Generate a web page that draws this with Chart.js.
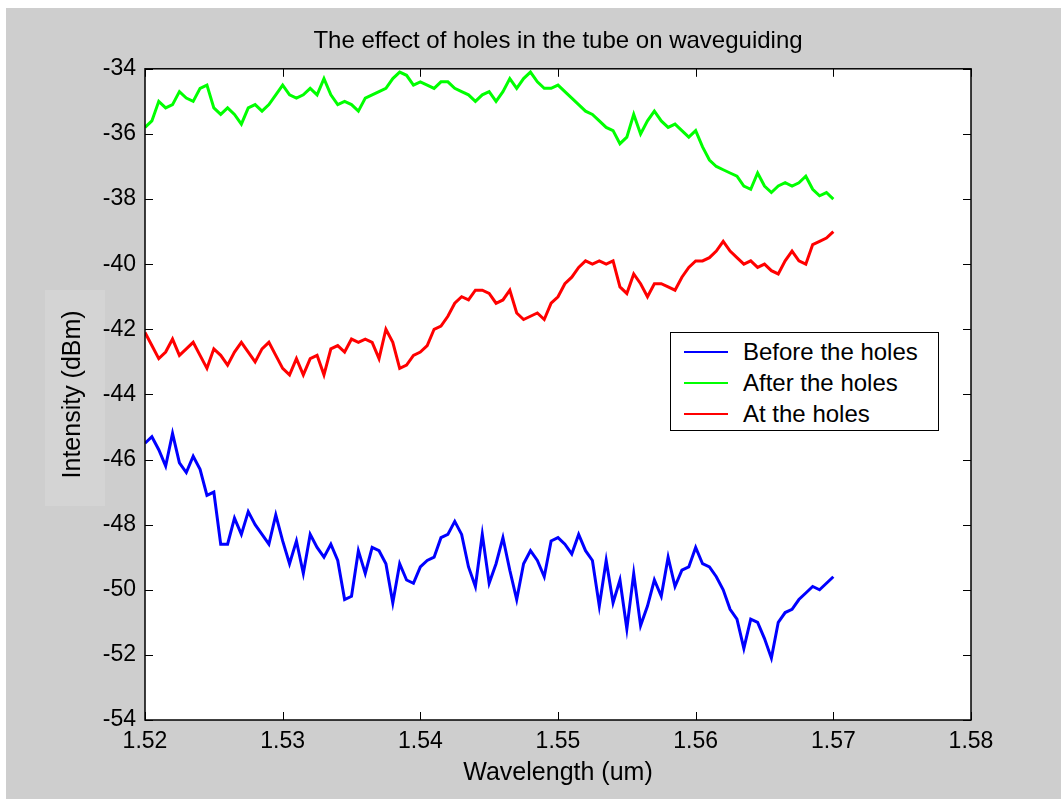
<!DOCTYPE html>
<html>
<head>
<meta charset="utf-8">
<title>The effect of holes in the tube on waveguiding</title>
<script src="https://cdn.jsdelivr.net/npm/chart.js@4.4.1/dist/chart.umd.min.js"></script>
<style>
  html, body { margin: 0; padding: 0; background: #fff; }
  #wrap { position: relative; width: 1061px; height: 799px; overflow: hidden; }
  #chart { position: absolute; left: 0; top: 0; }
  #legend {
    position: absolute; left: 670px; top: 332px; width: 269px; height: 99px;
    background: #fff; border: 1px solid #000; box-sizing: border-box;
    font: 24px "Liberation Sans", Arial, sans-serif; color: #000;
  }
  .lg-row { position: absolute; left: 0; height: 30px; width: 100%; }
  .lg-line { position: absolute; left: 13px; top: 14px; width: 44px; height: 2px; }
  .lg-text { position: absolute; left: 72px; top: 1px; line-height: 28px; white-space: nowrap; }
</style>
</head>
<body>
<div id="wrap">
  <canvas id="chart" width="1061" height="799"></canvas>
  <div id="legend"></div>
</div>
<script>
// sweep: 1.520 .. 1.570 um in 0.0005 steps (101 samples per trace)
const WL_START = 1.52;
const WL_STEP = 0.0005;

const xTicks = [1.52, 1.53, 1.54, 1.55, 1.56, 1.57, 1.58];
const yTicks = [-54, -52, -50, -48, -46, -44, -42, -40, -38, -36, -34];

const seriesNames = ["Before the holes", "After the holes", "At the holes"];
const seriesColors = ["#0000ff", "#00ff00", "#ff0000"];

const beforeHoles = [
  -45.5, -45.3, -45.7, -46.2, -45.2, -46.1, -46.4, -45.9, -46.3, -47.1,
  -47.0, -48.6, -48.6, -47.8, -48.3, -47.6, -48.0, -48.3, -48.6, -47.7,
  -48.5, -49.2, -48.5, -49.5, -48.3, -48.7, -49.0, -48.6, -49.1, -50.3,
  -50.2, -48.8, -49.5, -48.7, -48.8, -49.2, -50.4, -49.2, -49.7, -49.8,
  -49.3, -49.1, -49.0, -48.4, -48.3, -47.9, -48.3, -49.3, -49.9, -48.3,
  -49.8, -49.2, -48.4, -49.4, -50.3, -49.2, -48.8, -49.1, -49.6, -48.5,
  -48.4, -48.6, -48.9, -48.3, -48.8, -49.1, -50.5, -49.1, -50.4, -49.7,
  -51.2, -49.5, -51.1, -50.5, -49.7, -50.2, -49.0, -49.9, -49.4, -49.3,
  -48.7, -49.2, -49.3, -49.6, -50.0, -50.6, -50.9, -51.8, -50.9, -51.0,
  -51.5, -52.1, -51.0, -50.7, -50.6, -50.3, -50.1, -49.9, -50.0, -49.8,
  -49.6
];

const afterHoles = [
  -35.8, -35.6, -35.0, -35.2, -35.1, -34.7, -34.9, -35.0, -34.6, -34.5,
  -35.2, -35.4, -35.2, -35.4, -35.7, -35.2, -35.1, -35.3, -35.1, -34.8,
  -34.5, -34.8, -34.9, -34.8, -34.6, -34.8, -34.3, -34.8, -35.1, -35.0,
  -35.1, -35.3, -34.9, -34.8, -34.7, -34.6, -34.3, -34.1, -34.2, -34.5,
  -34.4, -34.5, -34.6, -34.4, -34.4, -34.6, -34.7, -34.8, -35.0, -34.8,
  -34.7, -35.0, -34.7, -34.3, -34.6, -34.3, -34.1, -34.4, -34.6, -34.6,
  -34.5, -34.7, -34.9, -35.1, -35.3, -35.4, -35.6, -35.8, -35.9, -36.3,
  -36.1, -35.4, -36.0, -35.6, -35.3, -35.6, -35.8, -35.7, -35.9, -36.1,
  -35.9, -36.4, -36.8, -37.0, -37.1, -37.2, -37.3, -37.6, -37.7, -37.2,
  -37.6, -37.8, -37.6, -37.5, -37.6, -37.5, -37.3, -37.7, -37.9, -37.8,
  -38.0
];

const atHoles = [
  -42.1, -42.5, -42.9, -42.7, -42.3, -42.8, -42.6, -42.4, -42.8, -43.2,
  -42.6, -42.8, -43.1, -42.7, -42.4, -42.7, -43.0, -42.6, -42.4, -42.8,
  -43.2, -43.4, -42.9, -43.4, -42.9, -42.8, -43.4, -42.6, -42.5, -42.7,
  -42.3, -42.4, -42.3, -42.4, -42.9, -42.0, -42.4, -43.2, -43.1, -42.8,
  -42.7, -42.5, -42.0, -41.9, -41.6, -41.2, -41.0, -41.1, -40.8, -40.8,
  -40.9, -41.2, -41.1, -40.8, -41.5, -41.7, -41.6, -41.5, -41.7, -41.2,
  -41.0, -40.6, -40.4, -40.1, -39.9, -40.0, -39.9, -40.0, -39.9, -40.7,
  -40.9, -40.3, -40.6, -41.0, -40.6, -40.6, -40.7, -40.8, -40.4, -40.1,
  -39.9, -39.9, -39.8, -39.6, -39.3, -39.6, -39.8, -40.0, -39.9, -40.1,
  -40.0, -40.2, -40.3, -39.9, -39.6, -39.9, -40.0, -39.4, -39.3, -39.2,
  -39.0
];

const FONT = '"Liberation Sans", Arial, sans-serif';

function toPoints(values) {
  return values.map((v, i) => ({ x: WL_START + i * WL_STEP, y: v }));
}

// gray figure background, white axes box
const figureBg = {
  id: "figureBg",
  beforeDraw(chart) {
    const { ctx, chartArea: a } = chart;
    ctx.save();
    ctx.fillStyle = "#ffffff";
    ctx.fillRect(0, 0, chart.width, chart.height);
    ctx.fillStyle = "#cecece";
    ctx.fillRect(6, 8, chart.width - 6, chart.height - 8);
    // slightly lighter patch behind the y label, as in the scan
    ctx.fillStyle = "#d4d4d4";
    ctx.fillRect(45, 290, 60, 216);
    ctx.fillStyle = "#ffffff";
    ctx.fillRect(a.left, a.top, a.right - a.left, a.bottom - a.top);
    ctx.restore();
  }
};

// matlab style box with inward ticks on all four sides
const boxTicks = {
  id: "boxTicks",
  afterDraw(chart) {
    const { ctx, chartArea: a, scales } = chart;
    const len = 8;
    ctx.save();
    ctx.strokeStyle = "#000";
    ctx.lineWidth = 1;
    ctx.beginPath();
    scales.x.ticks.forEach(t => {
      const px = Math.round(scales.x.getPixelForValue(t.value)) + 0.5;
      ctx.moveTo(px, a.bottom); ctx.lineTo(px, a.bottom - len);
      ctx.moveTo(px, a.top); ctx.lineTo(px, a.top + len);
    });
    scales.y.ticks.forEach(t => {
      const py = Math.round(scales.y.getPixelForValue(t.value)) + 0.5;
      ctx.moveTo(a.left, py); ctx.lineTo(a.left + len, py);
      ctx.moveTo(a.right, py); ctx.lineTo(a.right - len, py);
    });
    ctx.stroke();
    ctx.lineWidth = 1.5;
    ctx.strokeRect(a.left, a.top, a.right - a.left, a.bottom - a.top);
    ctx.restore();
  }
};

const traces = [beforeHoles, afterHoles, atHoles];

const chart = new Chart(document.getElementById("chart"), {
  type: "line",
  data: {
    datasets: traces.map((vals, i) => ({
      label: seriesNames[i],
      data: toPoints(vals),
      borderColor: seriesColors[i],
      borderWidth: 3,
      pointRadius: 0,
      tension: 0,
      fill: false
    }))
  },
  options: {
    responsive: false,
    animation: false,
    layout: { padding: { left: 0, right: 90, top: 0, bottom: 0 } },
    plugins: {
      legend: { display: false },
      tooltip: { enabled: false },
      title: {
        display: true,
        fullSize: false,
        text: "The effect of holes in the tube on waveguiding",
        color: "#000",
        font: { family: FONT, size: 24, weight: "normal", lineHeight: 1.2 },
        padding: { top: 27, bottom: 13 }
      }
    },
    scales: {
      x: {
        type: "linear",
        min: 1.52,
        max: 1.58,
        afterBuildTicks: s => { s.ticks = xTicks.map(v => ({ value: v })); },
        afterFit: s => { s.height = 79; },
        grid: { display: false, drawTicks: false },
        border: { display: false },
        ticks: {
          color: "#000",
          padding: 8,
          font: { family: FONT, size: 23 },
          callback: v => v.toFixed(2)
        },
        title: {
          display: true,
          text: "Wavelength (um)",
          color: "#000",
          font: { family: FONT, size: 25 },
          padding: { top: 0, bottom: 11 }
        }
      },
      y: {
        min: -54,
        max: -34,
        afterBuildTicks: s => { s.ticks = yTicks.map(v => ({ value: v })); },
        afterFit: s => { s.width = 145; },
        grid: { display: false, drawTicks: false },
        border: { display: false },
        ticks: {
          color: "#000",
          padding: 9,
          font: { family: FONT, size: 23 },
          callback: v => String(v)
        },
        title: {
          display: true,
          text: "Intensity (dBm)",
          color: "#000",
          font: { family: FONT, size: 25 },
          padding: { top: 58, bottom: 0 }
        }
      }
    }
  },
  plugins: [figureBg, boxTicks]
});

// legend box inside the axes, built from the datasets
const legendEl = document.getElementById("legend");
chart.data.datasets.forEach((ds, i) => {
  const row = document.createElement("div");
  row.className = "lg-row";
  row.style.top = (4 + i * 31) + "px";
  row.innerHTML = `<div class="lg-line" style="background:${ds.borderColor}"></div>` +
    `<div class="lg-text">${ds.label}</div>`;
  legendEl.appendChild(row);
});
</script>
</body>
</html>
